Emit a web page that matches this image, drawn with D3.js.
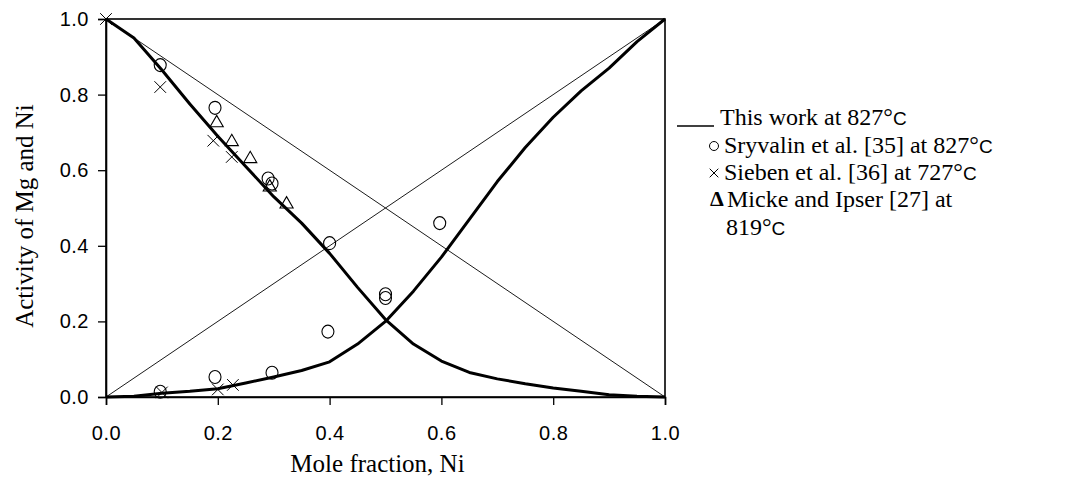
<!DOCTYPE html>
<html><head>
<meta charset="utf-8"/>
<script src="https://d3js.org/d3.v7.min.js"></script>
<style>
  body { margin: 0; padding: 0; background: #fff; width: 1070px; height: 483px; overflow: hidden; }
  .tick text { font-family: "Liberation Sans", Arial, sans-serif; font-size: 20px; fill: #000; letter-spacing: 0.5px; }
  .serif { font-family: "Liberation Serif", "Times New Roman", serif; fill: #000; }
</style>
</head>
<body>
<div id="chart"></div>
<script>
// Mole fraction Ni grid for the model curves
const xGrid = [0, 0.05, 0.1, 0.15, 0.2, 0.25, 0.3, 0.35, 0.4, 0.45, 0.5, 0.55, 0.6, 0.65, 0.7, 0.75, 0.8, 0.85, 0.9, 0.95, 1.0];
// This work at 827°C
const aMg = [1.0, 0.95, 0.865, 0.775, 0.69, 0.61, 0.53, 0.46, 0.38, 0.29, 0.205, 0.14, 0.095, 0.065, 0.048, 0.035, 0.024, 0.015, 0.006, 0.002, 0];
const aNi = [0, 0.002, 0.01, 0.015, 0.022, 0.037, 0.053, 0.07, 0.093, 0.14, 0.2, 0.28, 0.37, 0.47, 0.57, 0.66, 0.74, 0.81, 0.87, 0.94, 1.0];
// Sryvalin et al. [35] at 827°C
const sryX = [0.097, 0.097, 0.195, 0.195, 0.29, 0.297, 0.297, 0.4, 0.397, 0.5, 0.5, 0.597];
const sryY = [0.878, 0.014, 0.765, 0.053, 0.578, 0.565, 0.064, 0.407, 0.173, 0.272, 0.262, 0.46];
// Sieben et al. [36] at 727°C
const sieX = [0.0, 0.097, 0.192, 0.225, 0.1, 0.2, 0.227];
const sieY = [1.0, 0.82, 0.678, 0.635, 0.012, 0.02, 0.032];
// Micke and Ipser [27] at 819°C
const micX = [0.198, 0.225, 0.258, 0.293, 0.323];
const micY = [0.725, 0.675, 0.63, 0.555, 0.51];
const ticks = [0, 0.2, 0.4, 0.6, 0.8, 1.0];

const W = 1070, H = 483;
const pLeft = 106, pRight = 665, pTop = 19, pBottom = 397;

const svg = d3.select("#chart").append("svg").attr("width", W).attr("height", H);

const x = d3.scaleLinear().domain([0, 1]).range([pLeft, pRight]);
const y = d3.scaleLinear().domain([0, 1]).range([pBottom, pTop]);

// frame
svg.append("rect")
  .attr("x", pLeft).attr("y", pTop)
  .attr("width", pRight - pLeft).attr("height", pBottom - pTop)
  .attr("fill", "none").attr("stroke", "#000").attr("stroke-width", 1.6);

// axes
const xAxis = svg.append("g")
  .attr("transform", `translate(0,${pBottom})`)
  .call(d3.axisBottom(x).tickValues(ticks).tickFormat(d3.format(".1f")).tickSize(8).tickPadding(21));
const yAxis = svg.append("g")
  .attr("transform", `translate(${pLeft},0)`)
  .call(d3.axisLeft(y).tickValues(ticks).tickFormat(d3.format(".1f")).tickSize(8).tickPadding(9));
[xAxis, yAxis].forEach(g => {
  g.select(".domain").attr("stroke", "#000").attr("stroke-width", 1.6);
  g.selectAll(".tick line").attr("stroke", "#000").attr("stroke-width", 1.3);
});

// ideal (Raoult) lines
const raoult = [0, 1];
svg.append("path")
  .datum(raoult)
  .attr("d", d3.line().x(d => x(d)).y(d => y(d)))
  .attr("fill", "none").attr("stroke", "#000").attr("stroke-width", 0.9);
svg.append("path")
  .datum(raoult)
  .attr("d", d3.line().x(d => x(d)).y(d => y(1 - d)))
  .attr("fill", "none").attr("stroke", "#000").attr("stroke-width", 0.9);

// model curves
[aMg, aNi].forEach(series => {
  svg.append("path")
    .datum(xGrid.map((v, i) => [v, series[i]]))
    .attr("d", d3.line().x(d => x(d[0])).y(d => y(d[1])))
    .attr("fill", "none").attr("stroke", "#000").attr("stroke-width", 3)
    .attr("stroke-linejoin", "round");
});

// Sryvalin circles
svg.selectAll(".sry").data(sryX.map((v, i) => [v, sryY[i]])).enter()
  .append("ellipse").attr("class", "sry")
  .attr("cx", d => x(d[0])).attr("cy", d => y(d[1]))
  .attr("rx", 6).attr("ry", 6.5)
  .attr("fill", "none").attr("stroke", "#000").attr("stroke-width", 1.1);

// Sieben crosses
const cross = d3.symbol().type(d3.symbolX).size(90);
svg.selectAll(".sie").data(sieX.map((v, i) => [v, sieY[i]])).enter()
  .append("path").attr("class", "sie")
  .attr("transform", d => `translate(${x(d[0])},${y(d[1])})`)
  .attr("d", cross)
  .attr("fill", "none").attr("stroke", "#000").attr("stroke-width", 1);

// Micke triangles
const tri = d3.symbol().type(d3.symbolTriangle).size(75);
svg.selectAll(".mic").data(micX.map((v, i) => [v, micY[i]])).enter()
  .append("path").attr("class", "mic")
  .attr("transform", d => `translate(${x(d[0])},${y(d[1])})`)
  .attr("d", tri)
  .attr("fill", "none").attr("stroke", "#000").attr("stroke-width", 1.1);

// axis titles
svg.append("text").attr("class", "serif")
  .attr("x", (pLeft + pRight) / 2 - 8).attr("y", 472)
  .attr("text-anchor", "middle").style("font-size", "25px")
  .text("Mole fraction, Ni");
svg.append("text").attr("class", "serif")
  .attr("transform", `translate(33,${(pTop + pBottom) / 2 + 8}) rotate(-90)`)
  .attr("text-anchor", "middle").style("font-size", "25px")
  .text("Activity of Mg and Ni");

// legend
const lg = svg.append("g").attr("class", "serif").style("font-size", "24px");
function degC(t, pre) {
  t.append("tspan").text(pre + "°");
  t.append("tspan").style("font-family", "'Liberation Sans', Arial, sans-serif").style("font-size", "19px").text("C");
}
lg.append("line").attr("x1", 677).attr("x2", 714).attr("y1", 126).attr("y2", 126)
  .attr("stroke", "#000").attr("stroke-width", 1.3);
degC(lg.append("text").attr("x", 720).attr("y", 125), "This work at 827");

lg.append("circle").attr("cx", 714).attr("cy", 146).attr("r", 4.5)
  .attr("fill", "none").attr("stroke", "#000").attr("stroke-width", 1);
degC(lg.append("text").attr("x", 724).attr("y", 153), "Sryvalin et al. [35] at 827");

lg.append("path").attr("transform", "translate(714,173)")
  .attr("d", d3.symbol().type(d3.symbolX).size(50))
  .attr("fill", "none").attr("stroke", "#000").attr("stroke-width", 1);
degC(lg.append("text").attr("x", 724).attr("y", 180), "Sieben et al. [36] at 727");

lg.append("text").attr("x", 710).attr("y", 206).style("font-weight", "bold").style("font-size", "22px").text("Δ");
lg.append("text").attr("x", 727).attr("y", 207).text("Micke and Ipser [27] at");
degC(lg.append("text").attr("x", 726).attr("y", 235), "819");
</script>
</body></html>
